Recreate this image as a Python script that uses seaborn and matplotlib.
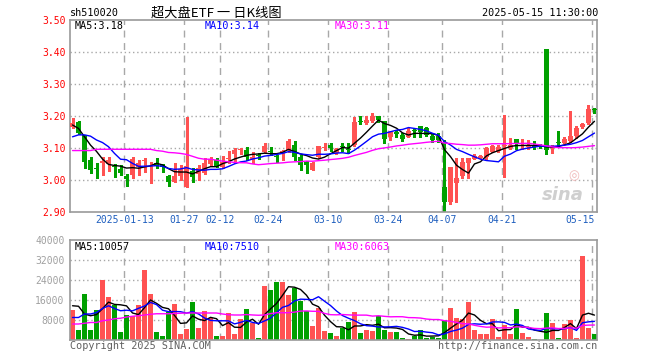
import numpy as np
import pandas as pd
import matplotlib
matplotlib.use("Agg")
import matplotlib.pyplot as plt
import matplotlib.transforms as mtrans
import seaborn as sns

# ---------------- data ----------------
symbol = "sh510020"
title = "超大盘ETF 一 日K线图"
timestamp = "2025-05-15 11:30:00"

date_labels = ["2025-01-13", "01-27", "02-12", "02-24", "03-10", "03-24", "04-07", "04-21", "05-15"]
date_index = [9, 19, 25, 33, 43, 53, 62, 72, 87]

open_ = [3.166, 3.182, 3.141, 3.0625, 3.036, 3.052, 3.050, 3.045, 3.034, 3.0125,
         3.016, 3.042, 3.058, 3.036, 3.052, 3.046, 3.0125, 2.995, 3.0125, 2.977,
         3.029, 3.019, 3.023, 3.050, 3.0625, 3.042, 3.066, 3.081, 3.093, 3.094,
         3.0625, 3.076, 3.088, 3.088, 3.072, 3.081, 3.094, 3.109, 3.071, 3.057,
         3.031, 3.071, 3.101, 3.110, 3.083, 3.105, 3.097, 3.109, 3.182, 3.179,
         3.185, 3.200, 3.185, 3.133, 3.151, 3.141, 3.135, 3.155, 3.169, 3.162,
         3.136, 3.136, 2.977, 2.932, 2.990, 3.013, 3.054, 3.067, 3.070, 3.071,
         3.088, 3.090, 3.105, 3.099, 3.128, 3.105, 3.104, 3.109, 3.107, 3.409,
         3.099, 3.119, 3.117, 3.123, 3.136, 3.165, 3.177, 3.220]
high = [3.193, 3.185, 3.141, 3.071, 3.052, 3.073, 3.073, 3.050, 3.047, 3.019,
        3.071, 3.0625, 3.068, 3.057, 3.068, 3.050, 3.016, 3.052, 3.047, 3.198,
        3.037, 3.047, 3.068, 3.071, 3.068, 3.075, 3.092, 3.100, 3.100, 3.102,
        3.088, 3.083, 3.117, 3.104, 3.078, 3.094, 3.127, 3.123, 3.078, 3.060,
        3.057, 3.106, 3.117, 3.115, 3.100, 3.117, 3.117, 3.196, 3.200, 3.200,
        3.210, 3.200, 3.185, 3.154, 3.156, 3.146, 3.161, 3.160, 3.169, 3.165,
        3.144, 3.146, 3.125, 3.042, 3.068, 3.068, 3.070, 3.080, 3.078, 3.102,
        3.108, 3.108, 3.203, 3.130, 3.128, 3.128, 3.125, 3.123, 3.112, 3.409,
        3.108, 3.152, 3.135, 3.217, 3.170, 3.177, 3.234, 3.226]
low = [3.162, 3.143, 3.037, 3.023, 3.007, 3.016, 3.028, 3.010, 3.016, 2.981,
       3.007, 3.016, 3.026, 2.990, 3.037, 3.026, 2.980, 2.995, 3.000, 2.977,
       2.995, 3.000, 3.019, 3.047, 3.042, 3.037, 3.052, 3.052, 3.081, 3.0625,
       3.052, 3.067, 3.085, 3.078, 3.057, 3.0625, 3.088, 3.0625, 3.030, 3.021,
       3.030, 3.068, 3.094, 3.090, 3.080, 3.092, 3.083, 3.106, 3.175, 3.175,
       3.182, 3.182, 3.117, 3.125, 3.135, 3.123, 3.133, 3.135, 3.135, 3.138,
       3.120, 3.120, 2.901, 2.925, 2.930, 3.005, 3.005, 3.066, 3.068, 3.066,
       3.086, 3.088, 3.010, 3.096, 3.096, 3.096, 3.097, 3.098, 3.100, 3.081,
       3.085, 3.104, 3.115, 3.120, 3.130, 3.164, 3.175, 3.210]
close = [3.179, 3.146, 3.057, 3.031, 3.034, 3.059, 3.0625, 3.040, 3.021, 3.004,
         3.065, 3.054, 3.060, 3.038, 3.044, 3.040, 2.995, 3.0125, 3.033, 3.044,
         3.010, 3.037, 3.052, 3.065, 3.044, 3.057, 3.068, 3.094, 3.095, 3.071,
         3.073, 3.074, 3.106, 3.087, 3.071, 3.092, 3.123, 3.073, 3.047, 3.047,
         3.054, 3.106, 3.103, 3.100, 3.096, 3.103, 3.095, 3.181, 3.180, 3.1875,
         3.200, 3.1875, 3.127, 3.151, 3.144, 3.127, 3.154, 3.153, 3.151, 3.141,
         3.125, 3.125, 2.932, 3.042, 3.007, 3.057, 3.070, 3.075, 3.076, 3.099,
         3.106, 3.104, 3.107, 3.109, 3.1125, 3.107, 3.106, 3.104, 3.106, 3.094,
         3.104, 3.117, 3.128, 3.1375, 3.164, 3.175, 3.222, 3.219]
volume = [12100, 4100, 18500, 4100, 12100, 23900, 17100, 14000, 3300, 10000,
          9600, 14000, 27900, 18500, 3300, 1500, 11300, 14600, 2500, 4400,
          15300, 4900, 11700, 9000, 1700, 1500, 10800, 2600, 8500, 12600,
          7000, 800, 21700, 20200, 23300, 23300, 18100, 20700, 15700, 11700,
          5500, 13000, 3700, 2900, 1500, 5000, 7300, 11300, 3000, 4100,
          3700, 9500, 4100, 3300, 3300, 900, 500, 1500, 4100, 700,
          1100, 900, 8000, 13000, 9000, 8600, 15300, 4100, 2300, 2300,
          8600, 1200, 6100, 2600, 12600, 3000, 1100, 500, 200, 10700,
          6700, 1000, 6300, 8100, 700, 33700, 4700, 2600]

# moving-average values before a full window exists
ma5_head = [3.172, 3.161, 3.135, 3.109]
ma10_head = [3.135, 3.141, 3.141, 3.137, 3.125, 3.117, 3.104, 3.083, 3.065]
ma30_head = [3.092, 3.092, 3.092, 3.092, 3.096, 3.096, 3.096, 3.096, 3.096, 3.096,
             3.096, 3.096, 3.096, 3.096, 3.092, 3.090, 3.086, 3.085, 3.083, 3.080,
             3.074, 3.068, 3.065, 3.065, 3.062, 3.059, 3.057, 3.055, 3.054]
vma5_head = [13700, 13500, 10400, 9700]
vma10_head = [9000, 9000, 10400, 10400, 11000, 12600, 13700, 12600, 11700]
vma30_head = [6400, 6400, 6700, 7000, 7000, 7700, 8000, 8500, 8700, 9200,
              9500, 9700, 10000, 10300, 10500, 10500, 10500, 10600, 10700, 10800,
              10800, 10800, 10800, 10800, 10800, 10400, 10100, 10000, 10000]

ma_labels_price = ["MA5:3.18", "MA10:3.14", "MA30:3.11"]
ma_labels_vol = ["MA5:10057", "MA10:7510", "MA30:6063"]
price_ticks = [2.90, 3.00, 3.10, 3.20, 3.30, 3.40, 3.50]
vol_ticks = [8000, 16000, 24000, 32000, 40000]

# ---------------- build ----------------
RED = "#ff5252"
GREEN = "#00a000"
GRID = "#a8a8a8"

n = len(close)
idx = np.arange(n)
o = np.array(open_); c = np.array(close); h = np.array(high); l = np.array(low)
up = c > o
cols = np.where(up, RED, GREEN)


def with_head(values, head, w):
    s = pd.Series(values, dtype=float).rolling(w).mean()
    s.iloc[:len(head)] = head
    return s.values


ma5 = with_head(close, ma5_head, 5)
ma10 = with_head(close, ma10_head, 10)
ma30 = with_head(close, ma30_head, 30)
vma5 = with_head(volume, vma5_head, 5)
vma10 = with_head(volume, vma10_head, 10)
vma30 = with_head(volume, vma30_head, 30)

df = pd.DataFrame({"i": idx, "vol": volume, "dir": np.where(up, "up", "down")})

sns.set_theme(style="white")
plt.rcParams["font.family"] = ["DejaVu Sans Mono", "Noto Sans CJK SC"]

W, H = 660, 360
fig = plt.figure(figsize=(W / 100, H / 100), dpi=100)
fig.patch.set_facecolor("white")


def fx(x):
    return x / W


def fy(y):
    return 1 - y / H


ax1 = fig.add_axes([fx(70), fy(212), fx(597) - fx(70), (212 - 20) / H])
ax2 = fig.add_axes([fx(70), fy(340), fx(597) - fx(70), (340 - 240) / H])

XL = (-0.42, 87.42)

# ---- price panel ----
for y in price_ticks[1:-1]:
    ax1.axhline(y, color=GRID, lw=1, ls=(0, (1, 2)), zorder=0)
for i in date_index:
    ax1.axvline(i - 0.37, color=GRID, lw=1, ls=(0, (5, 4)), zorder=0)

wicks = ax1.vlines(idx, l, h, colors=cols, lw=1, zorder=2)
wicks.set_antialiased(False)
bodies = ax1.bar(idx, np.maximum(np.abs(c - o), 0.003), bottom=np.minimum(o, c), width=0.8,
                 color=cols, linewidth=0, zorder=3)
for p in bodies:
    p.set_antialiased(False)
sns.lineplot(x=idx, y=ma5, ax=ax1, color="black", lw=1, zorder=4)
sns.lineplot(x=idx, y=ma10, ax=ax1, color="#0000ff", lw=1, zorder=4)
sns.lineplot(x=idx, y=ma30, ax=ax1, color="#ff00ff", lw=1, zorder=4)

ax1.set_xlim(*XL)
ax1.set_ylim(2.90, 3.50)
ax1.set_xticks([])
ax1.set_yticks(price_ticks)
ax1.set_yticklabels([f"{v:.2f}" for v in price_ticks])
ax1.tick_params(axis="y", length=0, pad=3, labelsize=7, labelcolor="#ff0000")
ax1.set_xlabel(""); ax1.set_ylabel("")

trans1 = mtrans.blended_transform_factory(ax1.transData, ax1.transAxes)
for k, (lab, i) in enumerate(zip(date_labels, date_index)):
    if k == len(date_labels) - 1:
        ax1.text(i + 0.05, -0.043, lab, transform=trans1, ha="right", va="center",
                 fontsize=7, color="#1f5fbf")
    else:
        ax1.text(i - 0.37, -0.043, lab, transform=trans1, ha="center", va="center",
                 fontsize=7, color="#1f5fbf")

# sina watermark
ax1.text(0.975, 0.09, "sina", transform=ax1.transAxes, ha="right", va="center",
         fontsize=13, fontweight="bold", style="italic", color="#cfcfcf",
         family="DejaVu Sans", zorder=1)
ax1.text(0.955, 0.19, "◎", transform=ax1.transAxes, ha="center", va="center",
         fontsize=9, color="#f0b8b8", family="DejaVu Sans", zorder=1)

# ---- volume panel ----
for y in vol_ticks[:-1]:
    ax2.axhline(y, color=GRID, lw=1, ls=(0, (1, 2)), zorder=0)
for i in date_index:
    ax2.axvline(i - 0.37, color=GRID, lw=1, ls=(0, (5, 4)), zorder=0)

sns.barplot(data=df, x="i", y="vol", hue="dir", palette={"up": RED, "down": GREEN},
            dodge=False, native_scale=True, width=0.83, saturation=1, linewidth=0,
            legend=False, ax=ax2, zorder=2)
for p in ax2.patches:
    p.set_antialiased(False)
sns.lineplot(x=idx, y=vma5, ax=ax2, color="black", lw=1, zorder=4)
sns.lineplot(x=idx, y=vma10, ax=ax2, color="#0000ff", lw=1, zorder=4)
sns.lineplot(x=idx, y=vma30, ax=ax2, color="#ff00ff", lw=1, zorder=4)

ax2.set_xlim(*XL)
ax2.set_ylim(0, 40000)
ax2.set_xticks([])
ax2.set_yticks(vol_ticks)
ax2.set_yticklabels([str(v) for v in vol_ticks])
ax2.tick_params(axis="y", length=0, pad=4, labelsize=7, labelcolor="#a0a0a0")
ax2.set_xlabel(""); ax2.set_ylabel("")

for ax in (ax1, ax2):
    ax.set_facecolor("white")
    for sp in ax.spines.values():
        sp.set_visible(True)
        sp.set_color("#9a9a9a")
        sp.set_linewidth(1.2)

# ---- texts ----
fig.text(fx(70), fy(13), symbol, ha="left", va="center", fontsize=7.3, color="black")
fig.text(fx(151), fy(13), title, ha="left", va="center", fontsize=9.5, color="black",
         family=["Noto Sans CJK SC", "DejaVu Sans"])
fig.text(fx(598), fy(13), timestamp, ha="right", va="center", fontsize=7.3, color="black")

ma_cols = ["black", "#0000ff", "#ff00ff"]
for lab, x, col in zip(ma_labels_price, [75, 205, 335], ma_cols):
    fig.text(fx(x), fy(26), lab, ha="left", va="center", fontsize=7.3, color=col)
for lab, x, col in zip(ma_labels_vol, [75, 205, 335], ma_cols):
    fig.text(fx(x), fy(247), lab, ha="left", va="center", fontsize=7.3, color=col)

fig.text(fx(70), fy(346), "Copyright 2025 SINA.COM", ha="left", va="center",
         fontsize=7.3, color="#606060")
fig.text(fx(597), fy(346), "http://finance.sina.com.cn", ha="right", va="center",
         fontsize=7.3, color="#606060")

fig.savefig("out.png", dpi=100, facecolor="white")
